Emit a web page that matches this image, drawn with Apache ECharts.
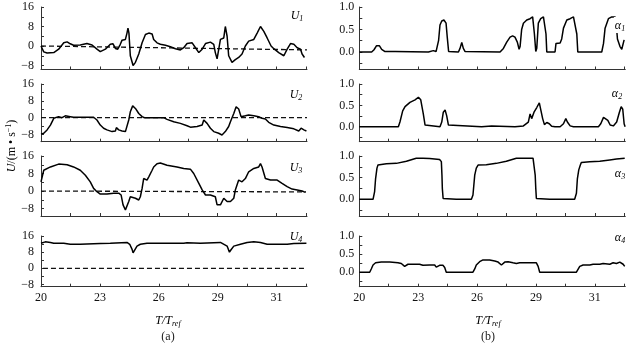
<!DOCTYPE html>
<html><head><meta charset="utf-8">
<script src="https://cdn.jsdelivr.net/npm/echarts@6/dist/echarts.min.js"></script>
<style>html,body{margin:0;padding:0;background:#fff}#c{width:633px;height:343px}</style>
</head><body><div id="c"></div>
<script>
// ---- axis ticks / labels ----
const xTickValues = [20,21.5,23,24.5,26,27.5,29,30.5,32,33.5];
const xLabelValues = [20,23,26,29,32];
const xLabelTexts = ['20','23','26','29','31'];
const uTickValues = [-8,-4,0,4,8,12,16];
const uLabelValues = [-8,0,8,16];
const aTickValues = [-0.25,0,0.25,0.5,0.75,1.0];
const aLabelValues = [0,0.5,1.0];

// ---- velocity series U1..U4 (T/Tref, m/s) ----
const U1 = [[20.00,0],[20.14,-2.4],[20.31,-2.9],[20.65,-2.7],[20.90,-1.3],[21.16,1.3],[21.33,1.7],[21.49,0.9],[21.66,0.3],[22.00,0.4],[22.34,1.0],[22.60,0.4],[22.85,-1.3],[23.02,-2.3],[23.28,-1.3],[23.53,0.7],[23.67,0.9],[23.79,-1.0],[23.91,-1.3],[24.04,0.7],[24.13,2.4],[24.30,2.7],[24.38,5.3],[24.43,7.3],[24.48,5.3],[24.55,-4.0],[24.69,-8.0],[24.81,-6.7],[24.98,-3.3],[25.15,1.3],[25.32,4.7],[25.49,5.3],[25.66,4.9],[25.74,2.7],[25.91,1.3],[26.08,0.7],[26.34,0.3],[26.59,-0.3],[26.85,-1.1],[27.10,-1.6],[27.27,-0.7],[27.44,1.0],[27.70,1.3],[27.87,-0.7],[28.04,-2.7],[28.21,-1.3],[28.38,1.0],[28.63,1.6],[28.80,0.7],[28.88,-2.7],[28.97,-5.3],[29.05,-4.7],[29.14,2.7],[29.31,3.3],[29.39,8.0],[29.48,4.0],[29.56,-4.0],[29.73,-6.7],[29.90,-5.6],[30.07,-4.7],[30.24,-3.3],[30.41,0],[30.58,2.0],[30.84,2.7],[31.01,5.3],[31.18,8.0],[31.35,6.0],[31.52,3.3],[31.72,0],[31.86,-1.1],[32.11,-2.7],[32.37,-4.0],[32.54,-1.3],[32.71,1.0],[32.88,0.7],[33.05,-0.7],[33.22,-1.3],[33.30,-3.3],[33.42,-4.7]];
const U2 = [[20.00,-7.8],[20.14,-7.4],[20.31,-5.8],[20.48,-3.5],[20.65,-0.3],[20.73,0.5],[20.90,0.5],[21.07,0],[21.24,0.9],[21.33,1.3],[21.49,0.5],[21.66,0.2],[22.00,0.2],[22.34,0.2],[22.68,0.2],[22.85,-1.1],[23.02,-3.5],[23.19,-5.0],[23.36,-5.8],[23.62,-6.6],[23.79,-6.3],[23.84,-4.7],[23.96,-5.8],[24.13,-6.3],[24.30,-6.6],[24.38,-6.6],[24.47,-1.1],[24.55,2.8],[24.67,5.6],[24.81,4.4],[24.98,2.0],[25.15,0.5],[25.27,0],[25.74,0],[26.25,0],[26.42,-0.8],[26.76,-1.9],[27.10,-2.7],[27.44,-3.8],[27.61,-4.5],[27.95,-4.2],[28.21,-3.5],[28.29,-1.1],[28.46,-2.7],[28.63,-5.0],[28.80,-6.6],[29.05,-7.4],[29.22,-8.2],[29.39,-6.6],[29.56,-4.2],[29.65,-1.9],[29.82,2.0],[29.94,5.2],[30.07,4.1],[30.19,0.5],[30.41,0.9],[30.58,1.3],[30.84,0.9],[31.09,0.5],[31.26,-0.3],[31.43,-0.6],[31.60,-2.2],[31.86,-3.5],[32.20,-4.2],[32.54,-4.7],[32.88,-5.3],[33.13,-6.3],[33.25,-5.0],[33.39,-5.8],[33.52,-6.3]];
const U3 = [[20.00,4.2],[20.14,9.5],[20.48,11.0],[20.90,12.3],[21.33,12.0],[21.66,11.0],[22.00,9.5],[22.26,7.2],[22.51,4.2],[22.68,1.2],[22.85,-0.3],[23.02,-1.4],[23.36,-1.4],[23.70,-1.0],[23.96,-1.0],[24.08,-1.8],[24.18,-6.3],[24.30,-8.6],[24.38,-7.9],[24.47,-4.8],[24.55,-2.6],[24.64,-1.8],[24.81,-3.3],[24.98,-4.1],[25.06,-2.6],[25.15,1.2],[25.23,5.7],[25.40,5.0],[25.49,6.5],[25.57,7.2],[25.66,9.5],[25.74,11.0],[25.91,12.5],[26.08,12.8],[26.42,11.8],[26.93,11.0],[27.27,10.3],[27.61,10.0],[27.78,8.0],[28.04,3.5],[28.21,0.5],[28.38,-1.8],[28.63,-1.8],[28.88,-2.6],[28.97,-6.3],[29.14,-6.3],[29.31,-3.3],[29.48,-4.8],[29.65,-4.8],[29.82,-3.3],[29.90,0.5],[30.07,5.0],[30.24,4.2],[30.41,5.7],[30.58,8.8],[30.84,10.3],[31.09,11.0],[31.18,12.5],[31.26,11.0],[31.43,5.7],[31.69,5.0],[32.03,5.0],[32.28,3.5],[32.54,2.0],[32.79,0.9],[33.05,0.5],[33.30,0],[33.47,-0.6]];
const U4 = [[20.00,12.4],[20.22,13.1],[20.48,12.8],[20.65,12.4],[21.16,12.4],[21.49,11.9],[22.00,11.9],[22.09,12.3],[23.02,12.3],[23.53,12.4],[24.38,12.8],[24.52,11.9],[24.64,9.4],[24.69,7.7],[24.76,8.5],[24.89,11.0],[25.06,11.9],[25.40,12.4],[27.27,12.4],[27.44,12.7],[28.12,12.4],[29.14,12.8],[29.48,11.0],[29.60,8.0],[29.68,9.2],[29.82,11.0],[30.16,11.9],[30.50,12.8],[30.84,13.1],[31.18,12.8],[31.52,11.9],[32.54,11.9],[32.88,12.3],[33.52,12.4]];
// reference (zero) dashed lines
const Z1 = [[20,0],[33.55,-1.6]];
const Z2 = [[20,0],[33.55,0]];
const Z3 = [[20,0],[33.5,-0.4]];
const Z4 = [[20.1,0],[33.5,0]];

// ---- volume fractions alpha1..alpha4 ----
const A1 = [[20.00,0],[20.63,0],[20.75,0.05],[20.88,0.14],[21.02,0.14],[21.14,0.06],[21.31,0.01],[21.82,0.01],[21.90,0],[23.52,0],[23.60,0.03],[23.77,0.03],[23.91,0.01],[23.99,0.05],[24.04,0.26],[24.11,0.6],[24.20,0.69],[24.31,0.71],[24.42,0.64],[24.48,0.33],[24.55,0.01],[24.62,0],[25.05,0],[25.13,0.08],[25.22,0.21],[25.30,0.08],[25.39,0.01],[25.47,0],[27.17,0],[27.34,0.08],[27.51,0.22],[27.68,0.33],[27.81,0.36],[27.93,0.33],[28.05,0.22],[28.14,0.06],[28.19,0.12],[28.27,0.5],[28.36,0.64],[28.53,0.71],[28.70,0.74],[28.83,0.78],[28.92,0.4],[28.99,0.01],[29.04,0.08],[29.12,0.64],[29.24,0.74],[29.38,0.78],[29.48,0.76],[29.51,0.4],[29.55,0],[29.97,0],[30.02,0.19],[30.09,0.22],[30.23,0.2],[30.31,0.29],[30.40,0.53],[30.57,0.71],[30.74,0.74],[30.91,0.78],[31.01,0.8],[31.08,0.4],[31.13,0],[32.35,0],[32.44,0.19],[32.52,0.53],[32.69,0.74],[32.86,0.78],[33.03,0.78],[33.08,0.67],[33.15,0.29],[33.28,0.12],[33.37,0.06],[33.49,0.27]];
const A2 = [[20.00,0],[21.99,0],[22.07,0.11],[22.21,0.37],[22.33,0.47],[22.58,0.57],[22.84,0.63],[23.01,0.69],[23.13,0.63],[23.26,0.30],[23.35,0.04],[23.43,0],[24.11,0],[24.20,0.11],[24.28,0.34],[24.37,0.39],[24.45,0.26],[24.54,0.04],[24.62,0],[26.23,0],[26.32,0.02],[26.74,0.02],[26.83,0],[27.93,0],[28.02,0.02],[28.36,0.02],[28.44,0],[28.61,0.11],[28.70,0.30],[28.78,0.19],[28.90,0.34],[29.04,0.45],[29.17,0.56],[29.24,0.52],[29.34,0.19],[29.43,0.05],[29.55,0.10],[29.68,0.07],[29.80,0.01],[29.97,0],[30.23,0],[30.40,0.07],[30.52,0.19],[30.60,0.11],[30.74,0.02],[30.91,0],[32.18,0],[32.30,0.07],[32.44,0.22],[32.54,0.26],[32.66,0.15],[32.78,0.04],[32.94,0.02],[33.11,0.11],[33.25,0.34],[33.34,0.47],[33.42,0.41],[33.49,0.07],[33.54,0]];
const A3 = [[20.00,0],[20.70,0],[20.78,0.18],[20.83,0.48],[20.90,0.72],[20.95,0.79],[21.38,0.82],[21.89,0.83],[22.40,0.88],[22.90,0.95],[23.24,0.95],[23.58,0.94],[24.09,0.92],[24.18,0.87],[24.21,0.56],[24.23,0.25],[24.27,0.02],[24.35,0],[24.94,0],[25.03,0.02],[25.11,0],[25.71,0],[25.79,0.10],[25.88,0.56],[25.96,0.72],[26.05,0.79],[26.47,0.80],[26.98,0.83],[27.49,0.88],[28.00,0.95],[28.85,0.95],[28.94,0.92],[28.96,0.56],[28.99,0.25],[29.02,0.02],[29.11,0],[29.70,0],[29.77,0.04],[29.84,0],[30.97,0],[31.06,0.14],[31.11,0.48],[31.18,0.68],[31.26,0.79],[31.31,0.85],[31.74,0.87],[32.25,0.88],[32.76,0.91],[33.10,0.93],[33.52,0.95]];
const A4 = [[20.00,0],[20.53,0],[20.61,0.09],[20.70,0.20],[20.83,0.26],[21.12,0.28],[21.55,0.28],[21.97,0.26],[22.14,0.24],[22.23,0.21],[22.31,0.16],[22.40,0.13],[22.48,0.22],[23.07,0.22],[23.24,0.19],[23.33,0.22],[23.58,0.20],[23.67,0.22],[23.84,0.20],[23.92,0.14],[24.01,0.11],[24.09,0.19],[24.26,0.19],[24.35,0.13],[24.43,0],[25.79,0],[25.88,0.09],[25.96,0.20],[26.13,0.29],[26.30,0.34],[26.64,0.34],[26.90,0.31],[27.07,0.28],[27.24,0.20],[27.32,0.16],[27.41,0.28],[27.58,0.29],[27.83,0.26],[28.00,0.24],[28.17,0.26],[29.02,0.26],[29.11,0.16],[29.19,0],[31.06,0],[31.14,0.05],[31.23,0.16],[31.40,0.20],[31.74,0.20],[31.82,0.16],[31.91,0.22],[32.25,0.22],[32.42,0.24],[32.76,0.22],[32.93,0.26],[33.10,0.24],[33.27,0.28],[33.44,0.22],[33.52,0.16]];

const uSeries = [U1,U2,U3,U4];
const zSeries = [Z1,Z2,Z3,Z4];
const aSeries = [A1,A2,A3,A4];
const panelIdx = ['1','2','3','4'];

// ---- layout ----
const rows = [
  {top:7,   bottom:69.5,  uMin:-9.64, aMin:-0.389},
  {top:84,  bottom:141.7, uMin:-11.4, aMin:-0.35},
  {top:156, bottom:216,   uMin:-11.4, aMin:-0.385},
  {top:236, bottom:286.7, uMin:-9.1,  aMin:-0.4}
];
const uNamePos = [[297,16],[296,95],[296,168],[296,237]];
const aNamePos = [[620,25],[617,93],[620,173],[620,237]];
const FONT = '"Liberation Serif","Times New Roman",serif';
const AX = '#333';

const grid=[], xAxis=[], yAxis=[], series=[];
function fmtU(v){ return v<0 ? '\u2212'+(-v) : String(v); }
rows.forEach((r,i)=>{
  const last = i===rows.length-1;
  [[41,'u'],[359.3,'a']].forEach(([left,kind])=>{
    const gi = grid.length;
    grid.push({left:left, top:r.top, width:266, height:r.bottom-r.top});
    xAxis.push({type:'value', gridIndex:gi, min:20, max:33.55,
      axisLine:{show:true, onZero:false, lineStyle:{color:AX,width:1}},
      axisTick:{show:true, inside:true, length:3, customValues:xTickValues, lineStyle:{color:AX}},
      axisLabel:{show:last, customValues:xLabelValues, margin:5, color:'#111', fontFamily:FONT, fontSize:12,
        formatter:(v)=>{const j=xLabelValues.indexOf(v); return j>=0?xLabelTexts[j]:'';}},
      splitLine:{show:false}});
    const isU = kind==='u';
    yAxis.push({type:'value', gridIndex:gi, min:isU?r.uMin:r.aMin, max:isU?16:1.0,
      axisLine:{show:true, onZero:false, lineStyle:{color:AX,width:1}},
      axisTick:{show:true, inside:true, length:3, customValues:isU?uTickValues:aTickValues, lineStyle:{color:AX}},
      axisLabel:{show:true, customValues:isU?uLabelValues:aLabelValues, margin:isU?7:5, color:'#111', fontFamily:FONT, fontSize:12,
        formatter:isU?fmtU:(v)=>v.toFixed(1)},
      splitLine:{show:false}});
    if(isU){
      series.push({type:'line', xAxisIndex:gi, yAxisIndex:gi, data:zSeries[i], showSymbol:false, silent:true,
        lineStyle:{color:'#111', width:1.3, type:[5,3]}});
      series.push({type:'line', xAxisIndex:gi, yAxisIndex:gi, data:uSeries[i], showSymbol:false,
        lineStyle:{color:'#000', width:1.5}});
    } else {
      series.push({type:'line', xAxisIndex:gi, yAxisIndex:gi, data:aSeries[i], showSymbol:false,
        lineStyle:{color:'#000', width:1.5}});
    }
  });
});

const rich = {
  i:{fontFamily:FONT, fontStyle:'italic', fontSize:12, color:'#222'},
  n:{fontFamily:FONT, fontSize:12, color:'#222'},
  sub:{fontFamily:FONT, fontStyle:'italic', fontSize:8, color:'#222', verticalAlign:'bottom', padding:[6,0,0,0]},
  sup:{fontFamily:FONT, fontSize:8, color:'#222', verticalAlign:'top', padding:[0,0,6,0]}
};
const graphic = [];
uNamePos.forEach((p,i)=>graphic.push({type:'text', x:p[0], y:p[1],
  style:{text:'{i|U}{sub|'+panelIdx[i]+'}', rich:rich, align:'center', verticalAlign:'middle'}}));
aNamePos.forEach((p,i)=>graphic.push({type:'text', x:p[0], y:p[1], z:100,
  style:{text:'{i|\u03b1}{sub|'+panelIdx[i]+'}', rich:rich, align:'center', verticalAlign:'middle',
    backgroundColor:'#fff', padding:[2,1,0,1]}}));
[[168,'(a)'],[488,'(b)']].forEach(([x,t])=>{
  graphic.push({type:'text', x:x, y:321, style:{text:'{i|T/T}{sub|ref}', rich:rich, align:'center', verticalAlign:'middle'}});
  graphic.push({type:'text', x:x, y:337, style:{text:t, font:'12px '+FONT, fill:'#222', align:'center', verticalAlign:'middle'}});
});
graphic.push({type:'text', x:12, y:146, rotation:Math.PI/2,
  style:{text:'{i|U}{n|/(m \u2022 s}{sup|\u22121}{n|)}', rich:rich, align:'center', verticalAlign:'middle'}});

const chart = echarts.init(document.getElementById('c'), null, {renderer:'canvas'});
chart.setOption({animation:false, backgroundColor:'#fff', grid, xAxis, yAxis, series, graphic});
</script></body></html>
